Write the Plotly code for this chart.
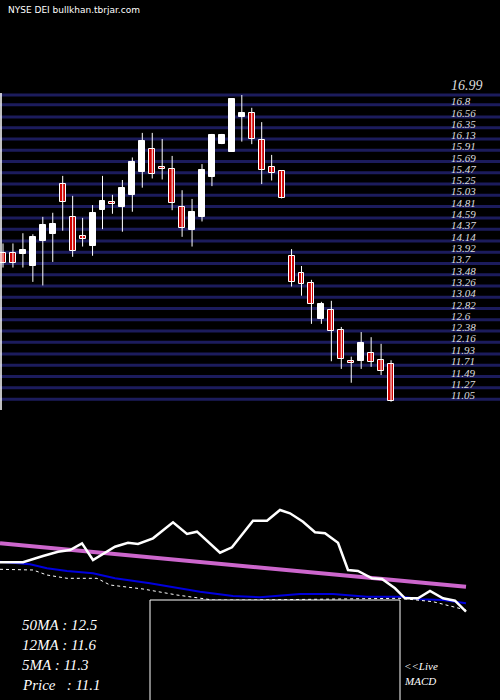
import plotly.graph_objects as go

# candles (price units)
opens = [13.90, 13.90, 13.88, 13.66, 14.14, 14.28, 15.25, 14.60, 14.24, 14.05, 14.75, 14.91, 14.81, 15.04,
         15.49, 15.93, 15.58, 15.54, 14.80, 14.35, 14.61, 15.39, 16.03, 15.88, 16.57, 16.63, 16.11, 15.58,
         15.50, 13.84, 13.51, 13.31, 12.62, 12.80, 12.41, 11.76, 11.80, 11.96, 11.81, 11.73]
closes = [13.71, 13.71, 13.96, 14.21, 14.45, 14.48, 14.91, 13.95, 14.18, 14.68, 14.92, 14.86, 15.17, 15.68,
          16.09, 15.44, 15.54, 14.89, 14.40, 14.70, 15.52, 16.21, 16.21, 16.91, 16.64, 16.14, 15.53, 15.46,
          14.97, 13.34, 13.30, 12.90, 12.91, 12.38, 11.83, 11.76, 12.15, 11.78, 11.59, 11.01]
highs = [14.09, 14.09, 14.29, 14.27, 14.61, 14.69, 15.41, 15.02, 14.59, 14.84, 15.41, 15.04, 15.33, 15.77,
         16.25, 16.25, 16.13, 15.80, 15.13, 14.96, 15.64, 16.23, 16.23, 16.93, 16.99, 16.74, 16.46, 15.82,
         15.50, 13.98, 13.65, 13.38, 12.95, 12.97, 12.46, 11.88, 12.36, 12.26, 12.13, 11.81]
lows = [13.62, 13.62, 13.62, 13.34, 13.27, 13.73, 14.34, 13.83, 14.03, 13.85, 14.37, 14.67, 14.32, 14.71,
        15.18, 15.36, 15.34, 14.74, 14.22, 14.03, 14.52, 15.21, 16.03, 15.88, 16.08, 16.03, 15.25, 15.32,
        14.97, 13.25, 13.07, 12.52, 12.52, 11.79, 11.64, 11.37, 11.64, 11.68, 11.52, 11.00]
price_ticks = [16.99, 16.8, 16.56, 16.35, 16.13, 15.91, 15.69, 15.47, 15.25, 15.03, 14.81, 14.59, 14.37, 14.14,
               13.92, 13.7, 13.48, 13.26, 13.04, 12.82, 12.6, 12.38, 12.16, 11.93, 11.71, 11.49, 11.27, 11.05]

# lower indicator panel (pixel-like scale)
white_x = [0, 23, 43, 58, 70, 82, 93, 115, 128, 138, 153, 173, 187, 197, 220, 232, 253, 267, 280, 290, 303,
           315, 325, 338, 348, 358, 372, 382, 395, 405, 418, 430, 443, 455, 466]
white_v = [137.7, 137.7, 144, 148.3, 150, 156.7, 140, 153.3, 157.3, 156, 161.7, 177.7, 166, 168.3, 147.3, 152.7,
           179.3, 179.3, 190, 186.7, 178.3, 167.7, 166.7, 157.3, 130, 129, 121.7, 121, 111.7, 101.7, 101.7,
           109, 101.7, 99.3, 88.3]
pink_x = [0, 466]
pink_v = [156.7, 113.3]
blue_x = [0, 30, 47, 67, 93, 115, 150, 200, 233, 260, 300, 333, 367, 403, 420, 443, 466]
blue_v = [138.3, 135.7, 131.7, 129, 126.7, 121.7, 116.7, 108.3, 104, 102.7, 106, 106, 103.3, 103.3, 100.7, 100, 96.7]
dot_x = [0, 33, 47, 67, 97, 110, 143, 177, 213, 253, 400, 433, 466]
dot_v = [130.7, 130, 125, 121.7, 121.7, 115, 111, 105, 100, 100, 101.7, 98.3, 90]
macd_x = [150, 178, 185, 200, 220, 235, 250, 265, 280, 295, 310, 315, 387]
macd_v = [50, 50, 40, 42.3, 47.3, 45.7, 40, 44.3, 49.3, 48.3, 41, 50, 50]
sig_x = [150, 400]
sig_v = [50, 50]

labels = ["50MA : 12.5", "12MA : 11.6", "5MA : 11.3", "Price   : 11.1"]

px_per_unit = 51.2
y_top = 16.99 + 95 / px_per_unit
y_bot = 16.99 - 605 / px_per_unit

fig = go.Figure()
idx = list(range(len(opens)))

for p in price_ticks:
    fig.add_shape(type="line", xref="paper", x0=0, x1=1, y0=p, y1=p, yref="y",
                  line=dict(color="#1c1c5c", width=3), layer="below")
    fig.add_annotation(x=449, xref="x2", y=p, yref="y", text="<i>" + str(p) + "</i>", showarrow=False,
                       xanchor="left", yanchor="bottom", yshift=-4 if p != 16.99 else 0,
                       font=dict(family="Liberation Serif", size=11 if p != 16.99 else 14, color="#dddddd"))

fig.add_shape(type="line", xref="x2", x0=1, x1=1, y0=16.99 + 2 / px_per_unit,
              y1=16.99 - 315 / px_per_unit, yref="y", line=dict(color="white", width=1.5))

for i in idx:
    fig.add_trace(go.Scatter(x=[i, i], y=[lows[i], highs[i]], mode="lines",
                             line=dict(color="white", width=1), showlegend=False, hoverinfo="skip"))
fig.add_trace(go.Bar(x=idx, base=[min(o, c) for o, c in zip(opens, closes)],
                     y=[max(abs(c - o), 0.03) for o, c in zip(opens, closes)],
                     marker=dict(color=["white" if c > o else "#cc0000" for o, c in zip(opens, closes)],
                                 line=dict(color="white", width=1)),
                     width=0.6, showlegend=False))

fig.add_trace(go.Scatter(x=pink_x, y=pink_v, xaxis="x2", yaxis="y2", mode="lines",
                         line=dict(color="#cc66cc", width=4), showlegend=False))
fig.add_trace(go.Scatter(x=blue_x, y=blue_v, xaxis="x2", yaxis="y2", mode="lines",
                         line=dict(color="#0000dd", width=2), showlegend=False))
fig.add_trace(go.Scatter(x=dot_x, y=dot_v, xaxis="x2", yaxis="y2", mode="lines",
                         line=dict(color="white", width=1, dash="dot"), showlegend=False))
fig.add_trace(go.Scatter(x=white_x, y=white_v, xaxis="x2", yaxis="y2", mode="lines",
                         line=dict(color="white", width=2.5), showlegend=False))

fig.add_shape(type="rect", xref="x2", yref="y2", x0=150, x1=400, y0=-20, y1=100,
              line=dict(color="white", width=1), fillcolor="black")
fig.add_trace(go.Scatter(x=sig_x, y=sig_v, xaxis="x2", yaxis="y2", mode="lines",
                         line=dict(color="#cc66cc", width=2), showlegend=False))
fig.add_trace(go.Scatter(x=macd_x, y=macd_v, xaxis="x2", yaxis="y2", mode="lines",
                         line=dict(color="white", width=2.5), showlegend=False))

for k, t in enumerate(labels):
    fig.add_annotation(x=20, xref="x2", y=75 - k * 20, yref="y2", text="<i>" + t + "</i>",
                       showarrow=False, xanchor="left",
                       font=dict(family="Liberation Serif", size=15, color="white"))
fig.add_annotation(x=402, xref="x2", y=34, yref="y2", text="<i><<Live</i>", showarrow=False,
                   xanchor="left", font=dict(family="Liberation Serif", size=11, color="white"))
fig.add_annotation(x=402, xref="x2", y=19, yref="y2", text="<i>MACD</i>", showarrow=False,
                   xanchor="left", font=dict(family="Liberation Serif", size=11, color="white"))
fig.add_annotation(x=6, xref="x2", y=690, yref="y2", text="NYSE DEI bullkhan.tbrjar.com", showarrow=False,
                   xanchor="left", font=dict(family="DejaVu Sans", size=9, color="white"))

fig.update_layout(
    width=500, height=700, margin=dict(l=0, r=0, t=0, b=0),
    paper_bgcolor="black", plot_bgcolor="black", bargap=0,
    xaxis=dict(range=[-3 / 9.95, 497 / 9.95], visible=False, fixedrange=True),
    yaxis=dict(range=[y_bot, y_top], visible=False),
    xaxis2=dict(range=[0, 500], overlaying="x", visible=False),
    yaxis2=dict(range=[0, 700], overlaying="y", visible=False),
)
fig.write_html("out.html", config={"displayModeBar": False},
               post_script="document.body.style.margin='0';document.body.style.background='black';")
